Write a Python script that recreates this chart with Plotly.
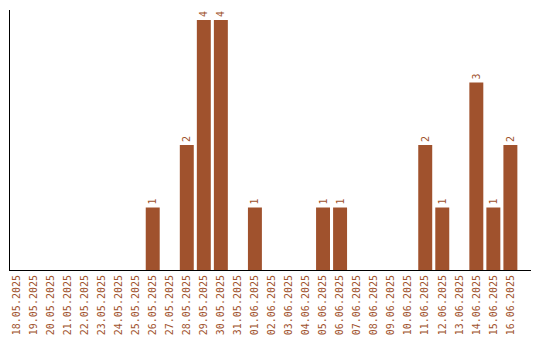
import plotly.graph_objects as go

dates = ["18.05.2025","19.05.2025","20.05.2025","21.05.2025","22.05.2025","23.05.2025",
         "24.05.2025","25.05.2025","26.05.2025","27.05.2025","28.05.2025","29.05.2025",
         "30.05.2025","31.05.2025","01.06.2025","02.06.2025","03.06.2025","04.06.2025",
         "05.06.2025","06.06.2025","07.06.2025","08.06.2025","09.06.2025","10.06.2025",
         "11.06.2025","12.06.2025","13.06.2025","14.06.2025","15.06.2025","16.06.2025"]
counts = [0,0,0,0,0,0,0,0,1,0,2,4,4,0,1,0,0,0,1,1,0,0,0,0,2,1,0,3,1,2]

color = "#A0522D"
labels = [str(c) if c > 0 else "" for c in counts]

fig = go.Figure(go.Bar(
    x=dates, y=counts, marker_color=color, marker_line_width=0,
    text=labels, textposition="outside", textangle=-90,
    textfont=dict(family="DejaVu Sans Mono", size=10, color=color),
    cliponaxis=False,
))
fig.update_layout(
    width=540, height=340, margin=dict(l=10, r=9, t=10, b=70, autoexpand=False),
    plot_bgcolor="white", paper_bgcolor="white", bargap=0.18, showlegend=False,
    font=dict(family="DejaVu Sans Mono", size=10, color=color),
)
fig.update_xaxes(type="category", tickangle=-90, showline=True, linecolor="black",
                 linewidth=1, showgrid=False, ticks="", automargin=False,
                 range=[-0.38, 30.21], tickfont=dict(size=10, color=color))
fig.update_yaxes(range=[0, 4.16], showline=True, linecolor="black", linewidth=1,
                 showgrid=False, showticklabels=False, ticks="", zeroline=False,
                 automargin=False)
fig.write_html("out.html")
